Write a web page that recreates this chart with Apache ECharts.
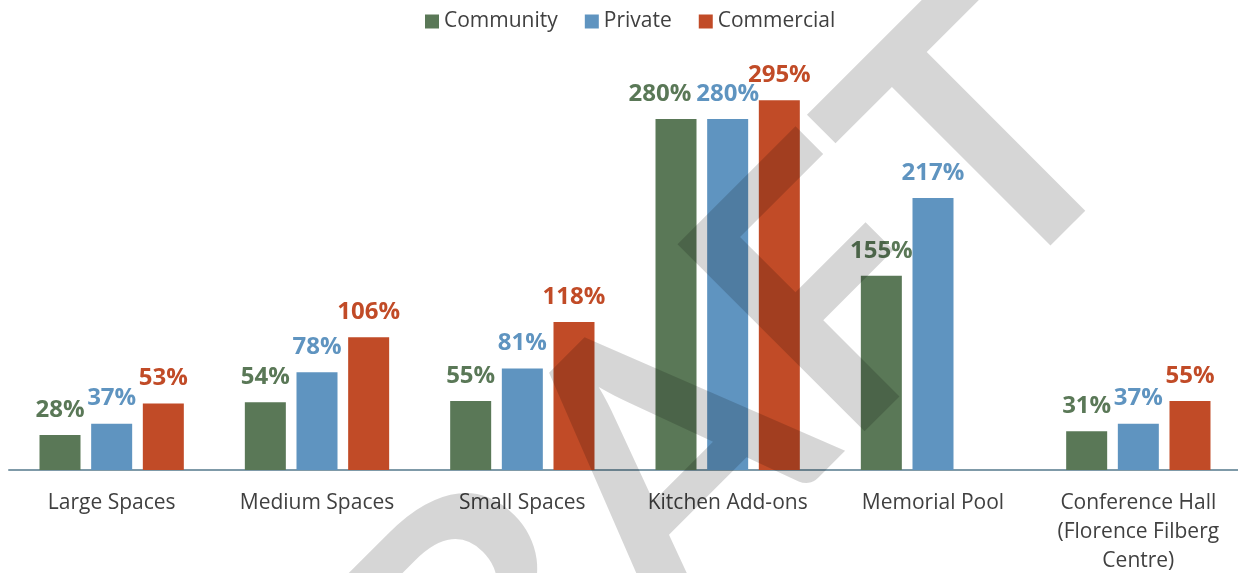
<!DOCTYPE html>
<html>
<head>
<meta charset="utf-8">
<script src="https://cdn.jsdelivr.net/npm/echarts@6/dist/echarts.min.js"></script>
<style>
  html, body { margin: 0; padding: 0; background: #ffffff; }
  #chart { width: 1238px; height: 573px; }
</style>
</head>
<body>
<div id="chart"></div>
<script>
const categories = ['Large Spaces', 'Medium Spaces', 'Small Spaces', 'Kitchen Add-ons', 'Memorial Pool', 'Conference Hall\n(Florence Filberg\nCentre)'];
const seriesNames = ['Community', 'Private', 'Commercial'];
const community = [28, 54, 55, 280, 155, 31];
const privateVals = [37, 78, 81, 280, 217, 37];
const commercial = [53, 106, 118, 295, null, 55];
const watermarkText = 'DRAFT';

const colors = ['#5a7857', '#5f94c0', '#c14b27'];
const values = [community, privateVals, commercial];

// one label nudged left in the reference (to avoid touching its neighbour)
const labelNudge = { series: 0, category: 3, dx: -16 };

const chart = echarts.init(document.getElementById('chart'), null, { renderer: 'canvas' });

const series = values.map((vals, si) => ({
  name: seriesNames[si],
  type: 'bar',
  barWidth: 41,
  barGap: '26%',
  itemStyle: { color: colors[si] },
  label: {
    show: true,
    position: 'top',
    distance: 13,
    formatter: p => p.value + '%',
    color: colors[si],
    fontFamily: 'Open Sans',
    fontWeight: 'bold',
    fontSize: 24
  },
  data: vals.map((v, ci) => {
    if (si === labelNudge.series && ci === labelNudge.category) {
      return { value: v, label: { offset: [labelNudge.dx, 0] } };
    }
    return v;
  })
}));

chart.setOption({
  animation: false,
  backgroundColor: '#ffffff',
  textStyle: { fontFamily: 'Open Sans' },
  color: colors,
  legend: {
    data: seriesNames,
    top: 6,
    left: 420,
    icon: 'rect',
    itemWidth: 14,
    itemHeight: 14,
    itemGap: 27,
    textStyle: { fontSize: 21, color: '#404040', fontFamily: 'Open Sans' }
  },
  grid: { left: 9, right: -3, top: 94, bottom: 103, containLabel: false, outerBoundsMode: 'none' },
  xAxis: {
    type: 'category',
    data: categories,
    axisTick: { show: false },
    axisLine: { lineStyle: { color: '#7f9aa8', width: 2 } },
    axisLabel: {
      interval: 0,
      margin: 19,
      fontSize: 21,
      lineHeight: 29,
      color: '#404040',
      fontFamily: 'Open Sans'
    }
  },
  yAxis: {
    type: 'value',
    min: 0,
    max: 300,
    show: false,
    splitLine: { show: false }
  },
  series: series,
  graphic: [{
    type: 'text',
    x: 1062,
    y: 67,
    rotation: Math.PI / 4,
    z: 100,
    silent: true,
    style: {
      text: watermarkText,
      fontFamily: 'Lato',
      fontWeight: 'bold',
      fontSize: 366,
      fill: 'rgba(0,0,0,0.16)',
      align: 'right',
      verticalAlign: 'middle',
      textAlign: 'right',
      textVerticalAlign: 'middle'
    }
  }]
});
</script>
</body>
</html>
